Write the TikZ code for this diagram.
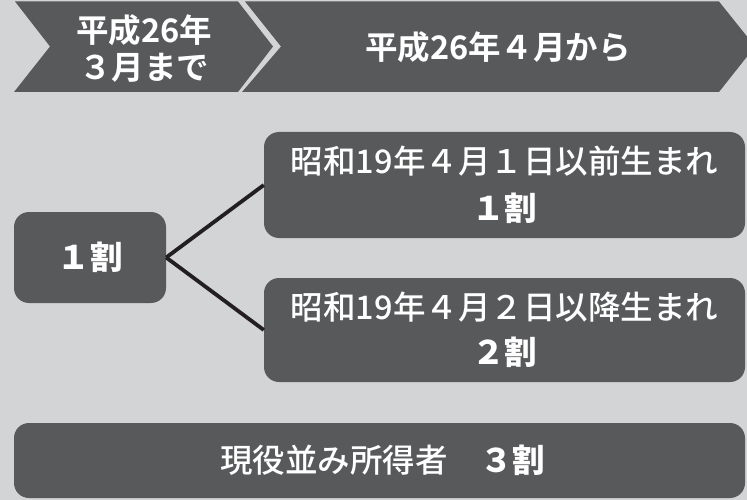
\documentclass[tikz,border=0pt]{standalone}
\usepackage{fontspec}
\newfontfamily\jp{Noto Sans CJK JP}[UprightFont=* Medium]
\newfontfamily\jpb{Noto Sans CJK JP}[UprightFont=* Bold]
\newfontfamily\jpk{Noto Sans CJK JP}[UprightFont=* Black]
\definecolor{bgc}{HTML}{D3D4D6}
\definecolor{dk}{HTML}{58595B}
\definecolor{ln}{HTML}{231F20}
\tikzset{
  shapefill/.style={fill=dk, draw=none},
  box/.style={shapefill, rounded corners=15pt, inner sep=0pt, text=white, align=center},
  lbl/.style={text=white, align=center, inner sep=0pt},
  conn/.style={draw=ln, line width=3.8pt}
}
\begin{document}
\begin{tikzpicture}[x=1pt,y=-1pt]
\fill[bgc] (0,0) rectangle (747,500);
\useasboundingbox (0,0) rectangle (747,500);
% chevrons
\fill[dk] (15,1.5) -- (238,1.5) -- (273,46.5) -- (238,92) -- (14,92) -- (50,46.5) -- cycle;
\fill[dk] (245,1.5) -- (719,1.5) -- (755,46.5) -- (719,92) -- (242,92) -- (281,46.5) -- cycle;
\node[lbl, font={\jpb\fontsize{32.5}{37}\selectfont}] (h1) at (144,49) {平成26年\\３月まで};
\node[lbl, font={\jpb\fontsize{32.5}{37}\selectfont}] (h2) at (498,47) {平成26年４月から};
% boxes
\node[box, minimum width=152pt, minimum height=91pt, font={\jpk\fontsize{32.5}{36}\selectfont}] (a) at (90,257.5) {１割};
\node[box, minimum width=481pt, minimum height=106pt, font={\jp\fontsize{32.5}{47}\selectfont}] (b) at (504.5,185) {昭和19年４月１日以前生まれ\\{\jpk １割}};
\node[box, minimum width=481pt, minimum height=104pt, font={\jp\fontsize{32.5}{45}\selectfont}] (c) at (504.5,330) {昭和19年４月２日以降生まれ\\{\jpk ２割}};
\node[box, minimum width=731pt, minimum height=75pt, font={\jp\fontsize{32.5}{36}\selectfont}] (d) at (379.5,460.5) {\hspace*{6pt}現役並み所得者　{\jpk ３割}};
% connectors
\draw[conn] (a.east) -- (b.west);
\draw[conn] (a.east) -- (c.west);
\end{tikzpicture}
\end{document}
